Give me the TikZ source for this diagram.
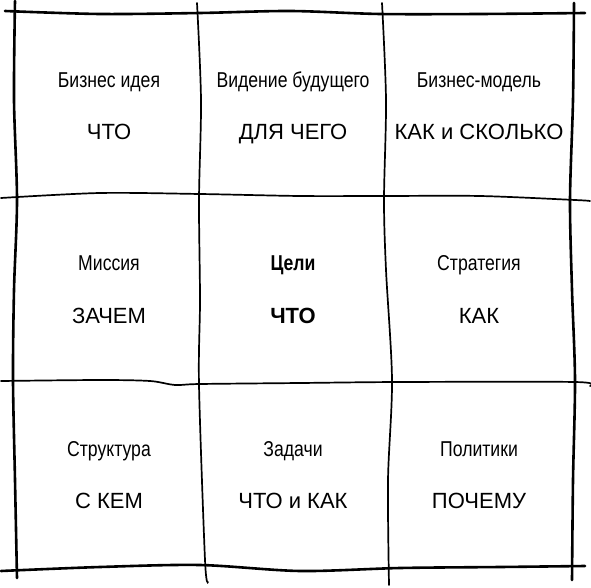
\documentclass[tikz,border=0pt]{standalone}
\usepackage{fontspec}
\setmainfont{Liberation Sans}
\newfontfamily\narrowfont[FakeStretch=0.82]{Liberation Sans}

\begin{document}
\begin{tikzpicture}[x=1pt, y=-1pt,
   title_style/.style={anchor=base, inner sep=0pt, font=\narrowfont\fontsize{21.5}{25}\selectfont},
   word_style/.style={anchor=base, inner sep=0pt, font=\fontsize{22}{26}\selectfont},
   outer_style/.style={draw=black, line width=2.6pt, line cap=round},
   inner_style/.style={draw=black, line width=1.7pt, line cap=round}]

    \useasboundingbox (0,0) rectangle (591,588);

    % frame
    \draw[outer_style] plot[smooth] coordinates {(5,11) (100,14) (200,13) (290,11) (380,14) (480,14) (585,13)};
    \draw[outer_style] plot[smooth] coordinates {(15,1) (14,100) (17,200) (14,290) (13,380) (15,480) (17,578)};
    \draw[outer_style] plot[smooth] coordinates {(574,3) (573,100) (570,200) (572,290) (575,380) (573,480) (572,580)};
    \draw[outer_style] plot[smooth] coordinates {(1,571) (100,567) (200,565) (300,571) (400,568) (500,567) (585,566)};

    % grid
    \draw[inner_style] plot[smooth] coordinates {(1,198) (100,193) (200,194) (300,196) (383,196) (480,196) (575,200) (590,201)};
    \draw[inner_style] plot[smooth] coordinates {(1,381) (100,380) (150,381) (175,385) (200,384) (300,383) (400,382) (575,382) (590,386)};
    \draw[inner_style] plot[smooth] coordinates {(197,3) (201,100) (199,200) (200,300) (199,385) (205,560) (208,582)};
    \draw[inner_style] plot[smooth] coordinates {(382,3) (386,100) (384,200) (386,270) (392,380) (388,480) (389,585)};

    \node[title_style] (t1) at (109,88) {Бизнес идея};
    \node[word_style]  (w1) at (109,140) {ЧТО};
    \node[title_style] (t2) at (293,88) {Видение будущего};
    \node[word_style]  (w2) at (293,140) {ДЛЯ ЧЕГО};
    \node[title_style] (t3) at (479,88) {Бизнес-модель};
    \node[word_style]  (w3) at (479,140) {КАК и СКОЛЬКО};

    \node[title_style] (t4) at (109,270) {Миссия};
    \node[word_style]  (w4) at (109,323) {ЗАЧЕМ};
    \node[title_style, font=\narrowfont\bfseries\fontsize{21.5}{25}\selectfont] (t5) at (293,270) {Цели};
    \node[word_style, font=\bfseries\fontsize{22}{26}\selectfont]  (w5) at (293,323) {ЧТО};
    \node[title_style] (t6) at (479,270) {Стратегия};
    \node[word_style]  (w6) at (479,323) {КАК};

    \node[title_style] (t7) at (109,456) {Структура};
    \node[word_style]  (w7) at (109,508) {С КЕМ};
    \node[title_style] (t8) at (293,456) {Задачи};
    \node[word_style]  (w8) at (293,508) {ЧТО и КАК};
    \node[title_style] (t9) at (479,456) {Политики};
    \node[word_style]  (w9) at (479,508) {ПОЧЕМУ};
\end{tikzpicture}
\end{document}
